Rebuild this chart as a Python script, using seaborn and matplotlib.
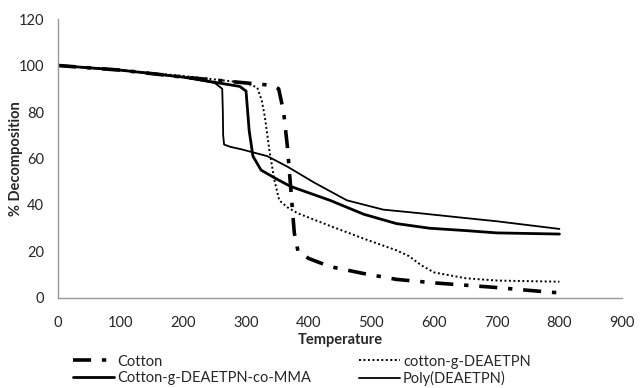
import matplotlib
matplotlib.use("Agg")
import matplotlib.pyplot as plt
import seaborn as sns
import pandas as pd

# Data
cotton_t = [0, 100, 200, 300, 340, 352, 360, 366, 372, 377, 383, 400, 434, 488, 540, 600, 650, 700, 750, 800]
cotton_v = [100, 98, 95, 92.5, 91.5, 90, 80, 65, 45, 28, 20, 17, 13.5, 10.5, 8, 6.5, 5.5, 4.5, 3.3, 2.2]

graft_t = [0, 100, 200, 300, 318, 325, 330, 337, 345, 353, 366, 382, 434, 488, 540, 560, 580, 600, 650, 700, 800]
graft_v = [100, 98, 95.5, 92.5, 90.5, 85, 78, 64, 51, 42, 39, 36.5, 31, 25.5, 20.5, 18, 14, 11, 8.5, 7.5, 7]

comma_t = [0, 100, 200, 290, 300, 305, 311, 324, 350, 371, 434, 488, 540, 593, 650, 700, 800]
comma_v = [100, 98, 95, 91, 89, 72, 61, 55, 51, 48, 42, 36, 32, 30, 29, 28, 27.5]

poly_t = [0, 100, 200, 250, 262, 263, 263.5, 265, 275, 292, 334, 366, 409, 461, 519, 572, 646, 700, 800]
poly_v = [100, 98, 95, 92.5, 90, 80, 70, 66, 65, 64, 61, 56.5, 49.6, 42, 38, 36.6, 34.5, 33, 29.7]

labels = ["Cotton", "cotton-g-DEAETPN", "Cotton-g-DEAETPN-co-MMA", "Poly(DEAETPN)"]
x_ticks = [0, 100, 200, 300, 400, 500, 600, 700, 800, 900]
y_ticks = [0, 20, 40, 60, 80, 100, 120]

sns.set_style("white")
plt.rcParams['font.family'] = ['Lato', 'DejaVu Sans']

fig = plt.figure(figsize=(6.41, 3.88), dpi=100)
ax = fig.add_axes([0.0905, 0.232, 0.880, 0.719])

series = [
    (cotton_t, cotton_v, labels[0], dict(lw=2.6, dashes=(5, 3, 1.2, 3))),
    (graft_t, graft_v, labels[1], dict(lw=1.4, dashes=(1, 1.3))),
    (comma_t, comma_v, labels[2], dict(lw=2.0)),
    (poly_t, poly_v, labels[3], dict(lw=1.3)),
]
for t, v, lab, kw in series:
    df = pd.DataFrame({"Temperature": t, "val": v})
    sns.lineplot(data=df, x="Temperature", y="val", ax=ax, sort=False,
                 estimator=None, color="black", label=lab, **kw)

ax.set_xlim(0, 900)
ax.set_ylim(0, 120)
ax.set_xticks(x_ticks)
ax.set_yticks(y_ticks)
ax.tick_params(axis='x', length=0, labelsize=10.5, pad=13)
ax.tick_params(axis='y', length=0, labelsize=10.5, pad=10)
ax.set_xlabel("Temperature", fontsize=10.5, fontweight='bold', labelpad=2)
ax.set_ylabel("% Decomposition", fontsize=10.5, fontweight='bold')
ax.yaxis.set_label_coords(-0.062, 0.5)
for s in ["top", "right"]:
    ax.spines[s].set_visible(False)
for s in ["left", "bottom"]:
    ax.spines[s].set_color("#999999")
    ax.spines[s].set_linewidth(1.0)

handles, labs = ax.get_legend_handles_labels()
order = [0, 2, 1, 3]
ax.legend([handles[i] for i in order], [labs[i] for i in order], ncol=2,
          loc="upper left", bbox_to_anchor=(0.017, -0.182), frameon=False,
          fontsize=10.5, handlelength=2.8, handletextpad=0.2, columnspacing=3.3,
          labelspacing=0.15, borderaxespad=0)

fig.savefig("out.png", dpi=100)
